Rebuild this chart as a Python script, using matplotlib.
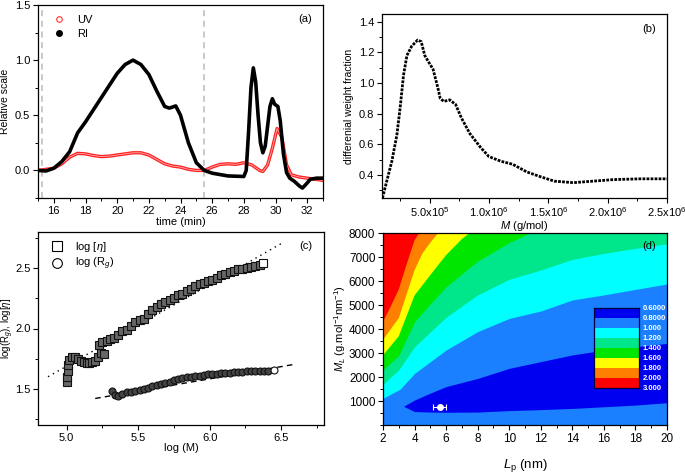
import matplotlib
matplotlib.use('Agg')
import matplotlib.pyplot as plt
from matplotlib.lines import Line2D
from matplotlib.ticker import MultipleLocator, FixedLocator

plt.rcParams['font.family'] = ['Liberation Sans', 'DejaVu Sans']
plt.rcParams['mathtext.fontset'] = 'custom'
plt.rcParams['mathtext.rm'] = 'Liberation Sans'
plt.rcParams['mathtext.it'] = 'Liberation Sans:italic'

# (a) elution profiles
ri_t = [15.0, 15.5, 16.0, 16.5, 17.0, 17.5, 18.0, 18.5, 19.0, 19.5, 20.0, 20.5, 21.0,
        21.5, 22.0, 22.5, 23.0, 23.3, 23.7, 24.0, 24.5, 25.0, 25.5, 26.0, 27.0, 28.0,
        28.15, 28.3, 28.45, 28.6, 28.75, 28.9, 29.05, 29.2, 29.35, 29.5, 29.65, 29.8,
        29.95, 30.15, 30.3, 30.5, 30.7, 30.9, 31.2, 31.5, 31.7, 31.9, 32.2, 32.6, 33.0]
ri_v = [0.0, -0.005, 0.02, 0.08, 0.17, 0.34, 0.44, 0.55, 0.66, 0.77, 0.88, 0.96, 1.0,
        0.96, 0.87, 0.72, 0.58, 0.565, 0.585, 0.50, 0.25, 0.07, 0.0, -0.025, -0.05, -0.055,
        0.0, 0.35, 0.75, 0.93, 0.80, 0.50, 0.25, 0.16, 0.22, 0.40, 0.58, 0.65,
        0.60, 0.58, 0.45, 0.15, -0.02, -0.07, -0.10, -0.14, -0.16, -0.13, -0.08, -0.07, -0.07]
uv_t = [15.0, 16.0, 16.5, 17.0, 17.5, 18.0, 18.5, 19.0, 19.5, 20.0, 20.5, 21.0, 21.5,
        22.0, 22.5, 23.0, 23.5, 24.0, 24.5, 25.0, 25.5, 26.0, 26.5, 27.0, 27.5, 28.0,
        28.5, 29.0, 29.2, 29.5, 29.8, 30.1, 30.4, 30.7, 31.0, 31.5, 32.0, 33.0]
uv_v = [0.0, 0.02, 0.06, 0.12, 0.155, 0.15, 0.135, 0.125, 0.13, 0.14, 0.15, 0.16, 0.16,
        0.14, 0.10, 0.06, 0.04, 0.03, 0.01, 0.0, 0.0, 0.03, 0.055, 0.06, 0.055, 0.07,
        0.05, 0.0, -0.01, 0.05, 0.20, 0.38, 0.30, 0.05, -0.04, -0.06, -0.07, -0.09]
vlines_t = [15.25, 25.5]

# (b) molar mass distribution
mw = [1.04e5, 1.4e5, 1.83e5, 2.25e5, 2.53e5, 2.81e5, 3.1e5, 3.5e5, 4.0e5, 4.3e5, 4.6e5,
      4.9e5, 5.3e5, 5.7e5, 5.9e5, 6.2e5, 6.7e5, 7.2e5, 7.7e5, 8.4e5, 9.3e5, 1.0e6,
      1.1e6, 1.2e6, 1.32e6, 1.43e6, 1.55e6, 1.71e6, 1.88e6, 2.05e6, 2.27e6, 2.5e6]
wfrac = [0.25, 0.36, 0.49, 0.66, 0.84, 1.05, 1.18, 1.24, 1.28, 1.27, 1.18,
         1.14, 1.09, 0.97, 0.90, 0.88, 0.89, 0.86, 0.77, 0.67, 0.58, 0.52,
         0.49, 0.47, 0.42, 0.39, 0.36, 0.35, 0.36, 0.37, 0.375, 0.375]
mw_ticks = [5e5, 1e6, 1.5e6, 2e6, 2.5e6]
mw_labels = [r'5.0x10$^{5}$', r'1.0x10$^{6}$', r'1.5x10$^{6}$', r'2.0x10$^{6}$', r'2.5x10$^{6}$']

# (c) log[eta] and log(Rg) vs log M
eta_x = [5.005, 5.005, 5.01, 5.01, 5.02, 5.04, 5.06, 5.08, 5.10, 5.12, 5.14, 5.16, 5.18,
         5.20, 5.22, 5.24, 5.26, 5.23, 5.25, 5.28, 5.30, 5.33, 5.36, 5.39, 5.42, 5.45,
         5.48, 5.51, 5.54, 5.57, 5.60, 5.63, 5.66, 5.69, 5.72, 5.75, 5.78, 5.81, 5.84,
         5.87, 5.90, 5.93, 5.96, 5.99, 6.02, 6.05, 6.08, 6.11, 6.14, 6.17, 6.20, 6.23,
         6.26, 6.29, 6.32, 6.35, 6.37]
eta_y = [1.56, 1.60, 1.65, 1.70, 1.74, 1.76, 1.76, 1.75, 1.73, 1.72, 1.71, 1.71, 1.72,
         1.73, 1.76, 1.80, 1.79, 1.86, 1.89, 1.90, 1.91, 1.92, 1.95, 1.98, 1.99, 2.02,
         2.05, 2.07, 2.08, 2.12, 2.15, 2.18, 2.20, 2.22, 2.24, 2.25, 2.28, 2.29, 2.31,
         2.33, 2.35, 2.37, 2.38, 2.39, 2.40, 2.42, 2.44, 2.45, 2.47, 2.48, 2.49, 2.49,
         2.50, 2.51, 2.52, 2.53, 2.54]
rg_x = [5.32, 5.34, 5.36, 5.39, 5.42, 5.45, 5.48, 5.51, 5.54, 5.57, 5.60, 5.63, 5.66,
        5.69, 5.72, 5.75, 5.78, 5.81, 5.84, 5.87, 5.90, 5.93, 5.96, 5.99, 6.02, 6.05,
        6.08, 6.11, 6.14, 6.17, 6.20, 6.23, 6.26, 6.29, 6.32, 6.35, 6.38, 6.41, 6.45]
rg_y = [1.48, 1.45, 1.44, 1.46, 1.47, 1.47, 1.48, 1.49, 1.50, 1.51, 1.52, 1.53, 1.54,
        1.55, 1.56, 1.57, 1.58, 1.59, 1.595, 1.60, 1.61, 1.61, 1.615, 1.62, 1.62, 1.625,
        1.63, 1.63, 1.635, 1.64, 1.64, 1.64, 1.645, 1.645, 1.65, 1.65, 1.65, 1.65, 1.655]
fit_eta_x = [4.87, 6.51]
fit_eta_y = [1.60, 2.71]
fit_rg_x = [5.20, 6.58]
fit_rg_y = [1.42, 1.70]

# (d) contour map: ML boundaries (g/mol/nm) vs Lp (nm) between levels
levels = ['0.6000', '0.8000', '1.000', '1.200', '1.400', '1.600', '1.800', '2.000', '3.000']
band_colors = ['#0000f0', '#1a80ff', '#00ffff', '#00e68a', '#00e600', '#ffff00', '#ff8000', '#ff0000']
b20_lp = [2, 2.5, 3, 3.5, 4, 4.3, 6, 20]
b20_ml = [4300, 4950, 5650, 6700, 7700, 8000, 10000, 30000]
b18_lp = [2, 3, 4, 4.5, 5, 5.5, 7, 20]
b18_ml = [3550, 4450, 6450, 7150, 7600, 8000, 10000, 30000]
b16_lp = [2, 3, 4, 5, 6, 7, 7.5, 9, 20]
b16_ml = [2900, 3700, 5400, 6250, 7080, 7750, 8000, 9500, 30000]
b14_lp = [2, 3, 4, 5, 6, 8, 10, 11.3, 13, 20]
b14_ml = [2300, 2900, 4300, 5050, 5760, 6830, 7600, 8000, 8500, 12000]
b12_lp = [2, 3, 4, 6, 8, 10, 12, 14, 16, 18, 20]
b12_ml = [1700, 2300, 3260, 4490, 5420, 6070, 6460, 6900, 7150, 7360, 7550]
b10_lp = [2, 3.1, 4, 6, 8, 10, 12, 14, 16, 18, 20]
b10_ml = [1110, 1500, 2150, 3125, 3890, 4440, 4750, 5210, 5420, 5650, 5875]
b08_lp = [3.3, 4, 5, 6, 8, 10, 12, 14, 16, 18, 20]
b08_top = [780, 1040, 1330, 1600, 1940, 2360, 2640, 2920, 3120, 3260, 3400]
b08_bot = [780, 560, 540, 530, 540, 600, 640, 690, 760, 830, 930]
pt_lp, pt_ml, pt_err = 5.6, 760, 0.4

fig = plt.figure(figsize=(6.85, 4.74), dpi=100)
W, H = 685, 474


def place(l, t, r, b):
    return fig.add_axes([l / W, 1 - b / H, (r - l) / W, (b - t) / H])


def style(ax, ylab_x):
    ax.tick_params(which='both', direction='out', top=False, right=False, labelsize=8, pad=2)
    ax.tick_params(which='major', length=3.5, width=0.8)
    ax.tick_params(which='minor', length=2, width=0.7)
    for s in ax.spines.values():
        s.set_linewidth(0.9)
    ax.yaxis.set_label_coords(ylab_x, 0.5)


# ---- (a)
ax = place(38, 5, 323, 198)
for tv in vlines_t:
    ax.axvline(tv, color='#bbbbbb', ls='--', lw=1.1, dashes=(4, 3))
ax.plot(uv_t, uv_v, color='#ff2020', lw=2.4, solid_capstyle='round')
ax.plot(uv_t, uv_v, color='#ffb0b0', lw=0.6)
ax.plot(ri_t, ri_v, color='black', lw=2.6, solid_capstyle='round')
ax.set_xlim(15, 33)
ax.set_ylim(-0.25, 1.5)
ax.xaxis.set_major_locator(FixedLocator([16, 18, 20, 22, 24, 26, 28, 30, 32]))
ax.xaxis.set_minor_locator(MultipleLocator(1))
ax.yaxis.set_major_locator(MultipleLocator(0.5))
ax.yaxis.set_minor_locator(MultipleLocator(0.25))
ax.set_xlabel('time (min)', fontsize=8, labelpad=1)
ax.set_ylabel('Relative scale', fontsize=7.5)
style(ax, -0.097)
hs = [Line2D([], [], ls='none', marker='o', mfc='none', mec='#ff3030', ms=4, mew=0.8),
      Line2D([], [], ls='none', marker='o', color='black', ms=4)]
ax.legend(hs, ['UV', 'RI'], loc='upper left', frameon=False, fontsize=8,
          handletextpad=0.6, borderaxespad=0.5, labelspacing=0.35)
ax.text(0.96, 0.93, '(a)', transform=ax.transAxes, ha='right', va='center', fontsize=8)

# ---- (b)
ax = place(382, 14, 667, 198)
ax.plot(mw, wfrac, color='black', lw=2.0, ls=(0, (1.0, 0.45)))
ax.set_xlim(1.0e5, 2.5e6)
ax.set_ylim(0.25, 1.45)
ax.xaxis.set_major_locator(FixedLocator(mw_ticks))
ax.set_xticklabels(mw_labels)
ax.xaxis.set_minor_locator(MultipleLocator(2.5e5))
ax.yaxis.set_major_locator(MultipleLocator(0.2))
ax.yaxis.set_minor_locator(MultipleLocator(0.1))
ax.set_xlabel('$M$ (g/mol)', fontsize=8, labelpad=0)
ax.set_ylabel('differenial weight fraction', fontsize=7.5)
style(ax, -0.098)
ax.text(0.96, 0.92, '(b)', transform=ax.transAxes, ha='right', va='center', fontsize=8)

# ---- (c)
ax = place(38, 232, 324, 425)
ax.plot(fit_eta_x, fit_eta_y, color='black', ls=(0, (1, 3)), lw=1)
ax.plot(fit_rg_x, fit_rg_y, color='black', ls=(0, (4, 3)), lw=1)
ax.plot(eta_x[:-1], eta_y[:-1], ls='none', marker='s', ms=5.5, mfc='#666666', mec='#111111', mew=0.8)
ax.plot(eta_x[-1:], eta_y[-1:], ls='none', marker='s', ms=5.5, mfc='white', mec='#111111', mew=0.8)
ax.plot(rg_x[:-1], rg_y[:-1], ls='none', marker='o', ms=5, mfc='#444444', mec='#111111', mew=0.8)
ax.plot(rg_x[-1:], rg_y[-1:], ls='none', marker='o', ms=5, mfc='white', mec='#111111', mew=0.8)
ax.set_xlim(4.8, 6.8)
ax.set_ylim(1.2, 2.8)
ax.xaxis.set_major_locator(MultipleLocator(0.5))
ax.xaxis.set_minor_locator(MultipleLocator(0.25))
ax.yaxis.set_major_locator(MultipleLocator(0.5))
ax.yaxis.set_minor_locator(MultipleLocator(0.25))
ax.set_xlabel('log (M)', fontsize=8, labelpad=0)
ax.set_ylabel(r'log(R$_g$), log[$\eta$]', fontsize=7)
style(ax, -0.078)
hs = [Line2D([], [], ls='none', marker='s', mfc='white', mec='black', ms=7, mew=0.8),
      Line2D([], [], ls='none', marker='o', mfc='white', mec='black', ms=7, mew=0.8)]
ax.legend(hs, [r'log [$\eta$]', r'log (R$_g$)'], loc='upper left', frameon=False, fontsize=8,
          handletextpad=0.6, borderaxespad=0.3, labelspacing=0.2)
ax.text(0.96, 0.93, '(c)', transform=ax.transAxes, ha='right', va='center', fontsize=8)

# ---- (d)
ax = place(383, 233, 667, 425)
ax.set_facecolor(band_colors[7])
ax.fill_between(b20_lp, 0, b20_ml, color=band_colors[6], lw=0)
ax.fill_between(b18_lp, 0, b18_ml, color=band_colors[5], lw=0)
ax.fill_between(b16_lp, 0, b16_ml, color=band_colors[4], lw=0)
ax.fill_between(b14_lp, 0, b14_ml, color=band_colors[3], lw=0)
ax.fill_between(b12_lp, 0, b12_ml, color=band_colors[2], lw=0)
ax.fill_between(b10_lp, 0, b10_ml, color=band_colors[1], lw=0)
ax.fill_between(b08_lp, b08_bot, b08_top, color=band_colors[0], lw=0)
ax.errorbar([pt_lp], [pt_ml], xerr=[pt_err], fmt='o', color='white', ms=4,
            elinewidth=0.8, capsize=2, capthick=0.8)
ax.set_xlim(2, 20)
ax.set_ylim(0, 8000)
ax.xaxis.set_major_locator(MultipleLocator(2))
ax.xaxis.set_minor_locator(MultipleLocator(1))
ax.yaxis.set_major_locator(FixedLocator([1000, 2000, 3000, 4000, 5000, 6000, 7000, 8000]))
ax.yaxis.set_minor_locator(MultipleLocator(500))
ax.set_xlabel(r'$L_{\rm p}$ (nm)', fontsize=9.5, labelpad=9)
ax.set_ylabel(r'$M_L$ (g.mol$^{-1}$nm$^{-1}$)', fontsize=8)
style(ax, -0.122)
ax.tick_params(labelsize=8.5)
ax.text(0.96, 0.93, '(d)', transform=ax.transAxes, ha='right', va='center', fontsize=8)

cax = fig.add_axes([594 / W, 1 - 388 / H, 45 / W, 80 / H])
cax.barh(range(len(band_colors)), 1, height=1, color=band_colors, lw=0)
cax.set_xlim(0, 1)
cax.set_ylim(len(band_colors) - 0.5, -0.5)
cax.set_xticks([])
cax.set_yticks([])
for s in cax.spines.values():
    s.set_color('#000040')
    s.set_linewidth(0.9)
for i, lab in enumerate(levels):
    cax.text(1.08, 1 - i / (len(levels) - 1), lab, transform=cax.transAxes, ha='left',
             va='center', color='white', fontsize=5.5, fontweight='bold')

fig.savefig('out.png', dpi=100)
